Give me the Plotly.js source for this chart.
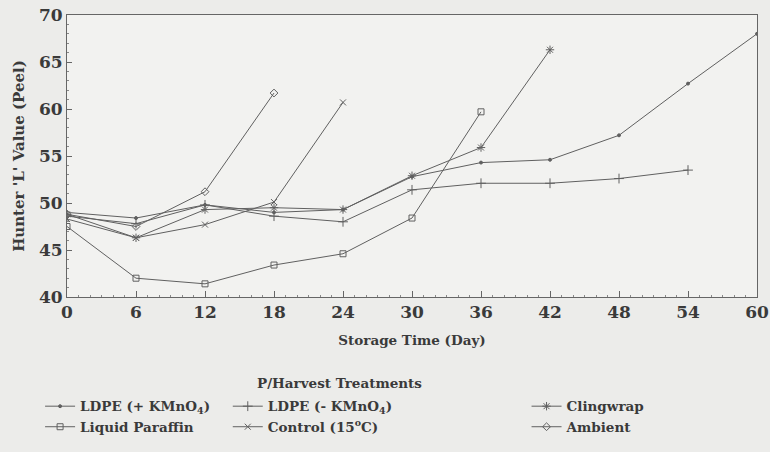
<!DOCTYPE html>
<html>
<head>
<meta charset="utf-8">
<script src="https://cdn.plot.ly/plotly-3.0.1.min.js"></script>
<style>html,body{margin:0;padding:0;background:#ececea;}#chart{width:770px;height:452px;}</style>
</head>
<body>
<div id="chart"></div>
<script>
const days = [0, 6, 12, 18, 24, 30, 36, 42, 48, 54, 60];
const seriesNames = ["LDPE (+ KMnO<sub>4</sub>)", "Liquid Paraffin", "LDPE (- KMnO<sub>4</sub>)", "Control (15<sup>o</sup>C)", "Clingwrap", "Ambient"];
const ldpePlus   = [49.0, 48.4, 49.8, 49.0, 49.3, 52.8, 54.3, 54.6, 57.2, 62.7, 68.0];
const ldpeMinus  = [48.6, 47.8, 49.8, 48.6, 48.0, 51.4, 52.1, 52.1, 52.6, 53.5];
const clingwrap  = [48.8, 46.3, 49.3, 49.5, 49.3, 52.9, 55.9, 66.3];
const paraffin   = [47.5, 42.0, 41.4, 43.4, 44.6, 48.4, 59.7];
const control    = [48.3, 46.3, 47.7, 50.1, 60.7];
const ambient    = [48.8, 47.5, 51.2, 61.7];
const xTicks = [0, 6, 12, 18, 24, 30, 36, 42, 48, 54, 60];
const yTicks = [40, 45, 50, 55, 60, 65, 70];

const FONT = "DejaVu Serif";
const INK = "#3a3a3a";
const LINE = "#606060";

function tr(name, y, symbol, size, legend) {
  return {
    x: days.slice(0, y.length), y: y, name: name, type: "scatter", mode: "lines+markers",
    line: {color: LINE, width: 1},
    marker: {symbol: symbol, size: size, color: LINE, line: {color: LINE, width: 1}},
    legend: legend
  };
}

const data = [
  tr(seriesNames[0], ldpePlus, "circle", 3, "legend"),
  tr(seriesNames[1], paraffin, "square-open", 6, "legend"),
  tr(seriesNames[2], ldpeMinus, "cross-thin-open", 7, "legend2"),
  tr(seriesNames[3], control, "x-thin-open", 6, "legend2"),
  tr(seriesNames[4], clingwrap, "asterisk-open", 7, "legend3"),
  tr(seriesNames[5], ambient, "diamond-open", 6, "legend3")
];

const legendBase = {
  orientation: "v", yanchor: "top", xanchor: "left", y: -0.333,
  bgcolor: "rgba(0,0,0,0)", font: {family: FONT, size: 13.5, color: INK, weight: "bold"},
  itemwidth: 30, tracegroupgap: 0
};

const layout = {
  width: 770, height: 452,
  margin: {l: 67, r: 13, t: 15, b: 155, autoexpand: false},
  paper_bgcolor: "#ececea",
  plot_bgcolor: "#f2f2f0",
  font: {family: FONT, color: INK},
  xaxis: {
    range: [0, 60], tickvals: xTicks, ticktext: xTicks.map(String),
    ticks: "inside", ticklen: 6, tickcolor: "#666", showgrid: false, zeroline: false,
    showline: true, linecolor: "#666", linewidth: 1, mirror: true,
    tickfont: {family: FONT, size: 17, weight: "bold", color: INK},
    minor: {dtick: 1, ticks: "inside", ticklen: 2, tickcolor: "#888"},
    title: {text: "Storage Time (Day)", font: {family: FONT, size: 13.5, weight: "bold", color: INK}, standoff: 14}
  },
  yaxis: {
    range: [40, 70], tickvals: yTicks, ticktext: yTicks.map(String),
    ticks: "inside", ticklen: 5, tickcolor: "#666", showgrid: false, zeroline: false,
    showline: true, linecolor: "#666", linewidth: 1, mirror: true,
    tickfont: {family: FONT, size: 17, weight: "bold", color: INK},
    minor: {dtick: 1, ticks: "inside", ticklen: 2, tickcolor: "#888"},
    title: {text: "Hunter 'L' Value (Peel)", font: {family: FONT, size: 15, weight: "bold", color: INK}, standoff: 10}
  },
  showlegend: true,
  legend: Object.assign({}, legendBase, {x: -0.039}),
  legend2: Object.assign({}, legendBase, {x: 0.233}),
  legend3: Object.assign({}, legendBase, {x: 0.666}),
  annotations: [{
    text: "P/Harvest Treatments", xref: "paper", yref: "paper", x: 0.395, y: -0.305,
    xanchor: "center", yanchor: "middle", showarrow: false,
    font: {family: FONT, size: 13.5, weight: "bold", color: INK}
  }]
};

Plotly.newPlot("chart", data, layout, {displayModeBar: false, staticPlot: true});
</script>
</body>
</html>
